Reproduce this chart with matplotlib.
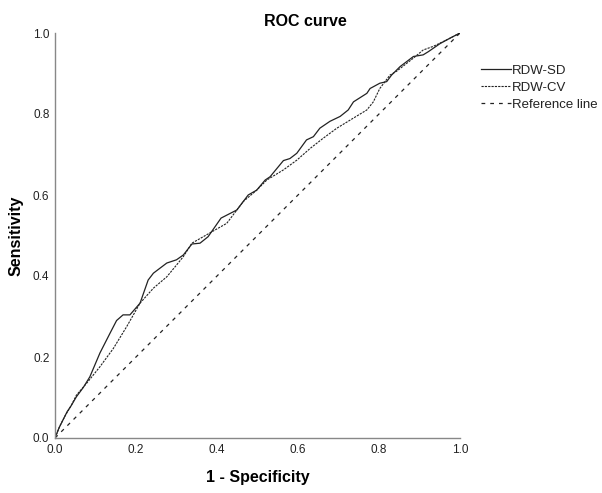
import numpy as np
import matplotlib
matplotlib.use("Agg")
import matplotlib.pyplot as plt

plt.rcParams['font.family'] = ['Liberation Sans', 'DejaVu Sans']

# ROC points
sd_fpr = [0.0, 0.01, 0.02, 0.03, 0.04, 0.053, 0.07, 0.086, 0.111, 0.136, 0.152, 0.168,
          0.185, 0.21, 0.23, 0.243, 0.276, 0.30, 0.317, 0.338, 0.358, 0.378, 0.41,
          0.449, 0.477, 0.498, 0.519, 0.531, 0.564, 0.58, 0.597, 0.621, 0.638, 0.654,
          0.679, 0.704, 0.724, 0.737, 0.77, 0.778, 0.802, 0.819, 0.831, 0.852, 0.885,
          0.909, 0.922, 0.951, 0.975, 1.0]
sd_tpr = [0.0, 0.025, 0.045, 0.065, 0.08, 0.102, 0.125, 0.151, 0.21, 0.259, 0.29, 0.304,
          0.304, 0.333, 0.39, 0.407, 0.432, 0.44, 0.452, 0.479, 0.481, 0.497, 0.543,
          0.563, 0.60, 0.612, 0.637, 0.645, 0.685, 0.69, 0.703, 0.736, 0.744, 0.765,
          0.782, 0.794, 0.81, 0.83, 0.851, 0.863, 0.876, 0.88, 0.896, 0.917, 0.942,
          0.946, 0.954, 0.974, 0.987, 1.0]

cv_fpr = [0.0, 0.012, 0.025, 0.04, 0.053, 0.078, 0.111, 0.144, 0.177, 0.21, 0.243,
          0.276, 0.30, 0.317, 0.338, 0.38, 0.424, 0.465, 0.498, 0.523, 0.564, 0.597,
          0.63, 0.662, 0.696, 0.737, 0.77, 0.786, 0.802, 0.827, 0.844, 0.885, 0.909,
          0.934, 0.967, 1.0]
cv_tpr = [0.0, 0.03, 0.055, 0.08, 0.106, 0.135, 0.176, 0.221, 0.275, 0.333, 0.37,
          0.398, 0.427, 0.448, 0.481, 0.505, 0.53, 0.584, 0.612, 0.637, 0.662, 0.686,
          0.715, 0.74, 0.765, 0.79, 0.81, 0.83, 0.863, 0.896, 0.906, 0.938, 0.958,
          0.967, 0.983, 1.0]

ref = [0.0, 1.0]

fig = plt.figure(figsize=(6.02, 4.93), dpi=100)
ax = fig.add_axes([55 / 602, 55 / 493, 405 / 602, 405 / 493])

ax.plot(sd_fpr, sd_tpr, color='#222222', lw=0.9, label='RDW-SD')
ax.plot(cv_fpr, cv_tpr, color='#222222', lw=0.8, dashes=(2, 1), label='RDW-CV')
ax.plot(ref, ref, color='#222222', lw=0.9, dashes=(3, 4), label='Reference line')

ax.set_xlim(0, 1)
ax.set_ylim(0, 1)
ticks = [0.0, 0.2, 0.4, 0.6, 0.8, 1.0]
ax.set_xticks(ticks)
ax.set_yticks(ticks)
ax.set_xticklabels([f"{t:.1f}" for t in ticks])
ax.set_yticklabels([f"{t:.1f}" for t in ticks])
ax.tick_params(length=0, labelsize=8.5, colors='#222222', pad=4)
for s in ['top', 'right']:
    ax.spines[s].set_visible(False)
for s in ['left', 'bottom']:
    ax.spines[s].set_color('#888888')
    ax.spines[s].set_linewidth(1.0)

ax.set_xlabel('1 - Specificity', fontsize=11.5, fontweight='bold')
ax.set_ylabel('Sensitivity', fontsize=11.5, fontweight='bold')
ax.xaxis.set_label_coords(0.5, -32 / 405)
ax.yaxis.set_label_coords(-31 / 405, 0.5)
fig.text(305 / 602, 1 - 22 / 493, 'ROC curve', fontsize=11.5, fontweight='bold',
         ha='center', va='center')

leg = ax.legend(loc='upper left', bbox_to_anchor=(1.04, 0.935), frameon=False,
                fontsize=9.5, handlelength=2.2, handletextpad=0.1,
                labelspacing=0.35, borderaxespad=0)
for t in leg.get_texts():
    t.set_color('#222222')

fig.savefig('out.png', dpi=100)
